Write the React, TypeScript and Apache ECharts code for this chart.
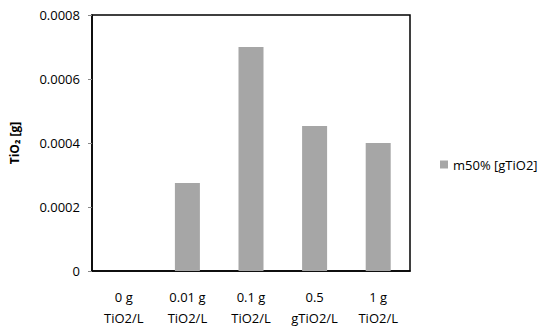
import React, { useEffect, useRef } from "react";
import * as echarts from "echarts";

const categories = ["0 g\nTiO2/L", "0.01 g\nTiO2/L", "0.1 g\nTiO2/L", "0.5\ngTiO2/L", "1 g\nTiO2/L"];
const values = [0, 0.000275, 0.0007, 0.000453, 0.0004];
const seriesName = "m50% [gTiO2]";
const yTicks = [0, 0.0002, 0.0004, 0.0006, 0.0008];

export default function App() {
  const ref = useRef<HTMLDivElement>(null);
  useEffect(() => {
    document.body.style.margin = "0";
    const chart = echarts.init(ref.current!, null, { renderer: "svg" });
    const font = "'Open Sans', 'Liberation Sans', sans-serif";
    chart.setOption({
      animation: false,
      textStyle: { fontFamily: font },
      grid: { left: 91, top: 15, width: 319, height: 256, show: true, borderColor: "#000", borderWidth: 1.5, backgroundColor: "transparent" },
      legend: {
        show: true,
        left: 440,
        top: 158,
        padding: 0,
        itemWidth: 8,
        itemHeight: 8,
        itemGap: 5,
        icon: "rect",
        textStyle: { fontSize: 13, color: "#000", fontFamily: font },
        data: [seriesName],
      },
      xAxis: {
        type: "category",
        data: categories,
        axisLine: { show: true, lineStyle: { color: "#000", width: 1.5 } },
        axisTick: { show: false },
        axisLabel: { color: "#000", fontSize: 13, lineHeight: 21, margin: 15, interval: 0, fontFamily: font },
      },
      yAxis: {
        type: "value",
        min: yTicks[0],
        max: yTicks[yTicks.length - 1],
        interval: 0.0002,
        axisLine: { show: true, lineStyle: { color: "#000", width: 1.5 } },
        axisTick: { show: true, length: 4, inside: false, lineStyle: { color: "#888" } },
        splitLine: { show: false },
        axisLabel: {
          color: "#000",
          fontSize: 13,
          margin: 12,
          fontFamily: font,
          formatter: (v: number) => (v === 0 ? "0" : v.toFixed(4)),
        },
        name: "TiO₂ [g]",
        nameLocation: "middle",
        nameGap: 72,
        nameTextStyle: { color: "#000", fontSize: 12, fontWeight: "bold", fontFamily: font },
      },
      series: [
        {
          name: seriesName,
          type: "bar",
          data: values,
          barWidth: 25,
          itemStyle: { color: "#A6A6A6" },
        },
      ],
    });
    return () => chart.dispose();
  }, []);
  return <div ref={ref} style={{ width: 550, height: 332 }} />;
}
